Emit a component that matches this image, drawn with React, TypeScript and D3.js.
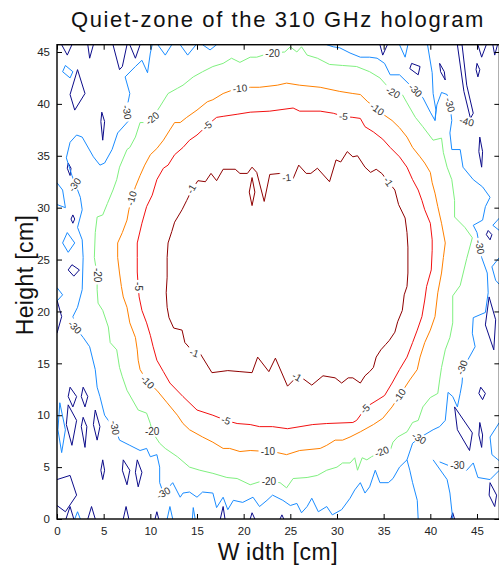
import React, { useEffect, useRef } from 'react';
import * as d3 from 'd3';

type Pt = [number, number];
type Lbl = [number, number, number];

const title = 'Quiet-zone of the 310 GHz hologram';
const xTicks = [0, 5, 10, 15, 20, 25, 30, 35, 40, 45];
const yTicks = [0, 5, 10, 15, 20, 25, 30, 35, 40, 45];

// contour lines, in cm
const level1: Pt[] = [
  [15.1, 32.6], [15.9, 32.5], [16.5, 33.3], [17.1, 32.6], [17.8, 33.7], [19.1, 33.7], [19.6, 33.3], [20.4, 33.3],
  [20.9, 33.9], [21.4, 33.4], [22.2, 30.6], [22.8, 33.2], [23.9, 33.3], [24.6, 32.9], [25.3, 32.8], [25.9, 34.1],
  [26.7, 33.3], [27.2, 33.3], [27.9, 33.8], [29.2, 32.5], [29.9, 34.6], [30.4, 34.4], [31.1, 35.4], [31.7, 34.9],
  [32.2, 35.0], [33.0, 33.9], [33.6, 33.4], [34.2, 33.7], [34.8, 33.3], [35.5, 32.5], [36.2, 31.7], [36.6, 30.3],
  [37.3, 29.0], [37.5, 27.6], [37.6, 26.2], [37.6, 23.7], [37.5, 22.4], [37.2, 21.6], [37.0, 20.1], [36.5, 19.0],
  [36.2, 18.0], [35.6, 17.2], [35.2, 16.8], [34.7, 16.3], [34.2, 15.6], [33.9, 14.6], [33.5, 14.2], [33.0, 13.8],
  [32.5, 13.1], [31.7, 13.6], [31.2, 13.6], [30.5, 13.1], [29.8, 13.6], [28.5, 13.8], [27.3, 12.9], [26.4, 13.5],
  [25.7, 13.7], [24.7, 12.8], [23.4, 15.5], [22.7, 14.2], [21.5, 15.6], [20.9, 14.1], [19.6, 14.2], [18.3, 14.3],
  [16.6, 14.1], [15.3, 16.0], [14.7, 16.0], [13.7, 17.0], [13.4, 18.2], [12.5, 18.4], [12.0, 19.4], [11.8, 20.4],
  [11.7, 21.8], [11.8, 23.3], [11.8, 25.2], [11.9, 26.6], [12.3, 27.7], [12.6, 28.6], [13.4, 29.8], [13.9, 30.7],
  [14.5, 31.8]
];
const level1Island: Pt[] = [[20.9, 32.9], [21.2, 31.5], [20.9, 30.2], [20.6, 31.5]];

const level5: Pt[] = [
  [16.1, 37.9], [16.7, 38.4], [17.1, 38.7], [17.8, 38.8], [19.3, 39.0], [20.7, 39.2], [22.8, 39.3], [25.3, 39.6],
  [26.0, 39.3], [28.2, 39.3], [29.6, 39.1], [30.7, 38.8], [31.7, 38.7], [32.5, 38.6], [33.0, 37.8], [33.9, 37.3],
  [34.9, 36.6], [35.7, 35.8], [36.7, 34.9], [37.5, 33.9], [38.1, 32.7], [38.7, 31.7], [39.1, 30.7], [39.4, 29.8],
  [40.0, 28.5], [40.2, 26.9], [40.2, 25.9], [40.1, 24.0], [39.6, 22.4], [39.4, 21.1], [39.1, 19.5], [38.6, 18.2],
  [38.1, 17.0], [37.5, 15.6], [36.7, 14.4], [35.9, 13.1], [35.1, 11.9], [34.4, 11.5], [33.5, 11.0], [33.0, 10.6],
  [32.1, 9.5], [31.7, 9.3], [28.9, 9.2], [27.4, 9.1], [24.7, 8.7], [23.1, 8.9], [21.7, 8.9], [20.7, 9.1],
  [19.3, 9.2], [18.1, 9.5], [16.7, 10.0], [15.0, 10.5], [13.5, 11.8], [12.1, 13.1], [11.4, 14.2], [10.7, 15.3],
  [10.3, 16.6], [10.0, 17.7], [9.6, 18.9], [9.1, 20.1], [8.8, 21.4], [8.7, 22.4], [8.6, 23.8], [8.6, 25.2],
  [8.6, 26.6], [9.1, 28.5], [9.6, 30.1], [10.2, 31.2], [10.7, 32.7], [11.4, 33.8], [11.9, 34.1], [12.6, 35.1],
  [13.5, 35.8], [14.2, 36.5], [15.0, 37.0], [15.6, 37.5]
];

const level10: Pt[] = [
  [19.6, 41.5], [20.7, 41.6], [21.7, 41.6], [23.6, 41.8], [24.6, 42.0], [26.0, 41.8], [28.2, 41.6], [30.3, 41.2],
  [31.7, 41.0], [32.5, 40.9], [33.3, 40.2], [34.3, 39.5], [35.1, 38.9], [35.9, 38.4], [36.7, 37.7], [37.5, 36.8],
  [38.1, 35.8], [38.9, 34.9], [39.4, 34.3], [40.0, 33.4], [40.2, 32.4], [40.5, 31.4], [40.8, 30.1], [41.2, 28.5],
  [41.6, 26.6], [41.4, 25.2], [41.2, 23.7], [40.8, 21.8], [40.5, 19.5], [40.0, 18.2], [39.4, 17.0], [38.9, 15.6],
  [38.6, 14.4], [37.8, 13.4], [36.7, 11.9], [35.9, 10.8], [34.9, 9.7], [33.9, 9.1], [32.5, 8.4], [31.4, 7.9],
  [30.6, 7.6], [29.8, 7.6], [28.9, 7.1], [28.2, 6.8], [26.0, 6.6], [24.6, 6.2], [23.1, 6.5], [22.6, 6.5],
  [20.7, 6.6], [19.6, 6.5], [18.5, 6.8], [17.8, 6.8], [16.7, 7.4], [15.6, 7.9], [14.2, 8.6], [13.5, 9.2],
  [12.9, 10.0], [11.8, 11.2], [10.7, 12.4], [9.7, 13.2], [8.9, 14.4], [8.7, 15.3], [8.6, 16.3], [8.4, 17.5],
  [7.8, 18.9], [7.5, 20.4], [7.1, 21.4], [6.9, 22.4], [6.7, 23.7], [6.5, 25.2], [6.5, 26.6], [7.0, 27.6],
  [7.5, 28.8], [7.7, 29.8], [8.0, 30.9], [8.4, 32.0], [8.9, 33.1], [9.4, 34.1], [10.0, 35.1], [10.7, 35.7],
  [11.4, 36.5], [12.1, 37.5], [12.6, 38.2], [13.2, 38.2], [13.9, 38.7], [15.0, 39.4], [16.1, 40.2], [16.7, 40.4],
  [17.8, 41.0], [18.7, 41.3]
];

const level20: Pt[] = [
  [23.1, 44.9], [24.4, 45.0], [25.0, 45.5], [25.7, 45.0], [26.2, 45.5], [26.8, 44.7], [27.9, 44.4], [29.2, 43.8],
  [30.6, 43.7], [32.1, 43.6], [33.5, 43.1], [34.6, 42.5], [35.1, 42.0], [36.0, 41.1], [37.0, 40.9], [37.5, 40.1],
  [38.4, 38.7], [39.2, 37.8], [40.3, 36.5], [41.2, 36.7], [41.4, 35.3], [41.8, 33.9], [42.3, 32.7], [42.6, 30.7],
  [42.6, 29.1], [43.7, 28.1], [44.5, 27.1], [43.9, 25.1], [43.2, 22.5], [42.4, 21.5], [42.4, 18.9], [42.1, 17.5],
  [41.6, 16.3], [41.2, 14.6], [41.0, 13.4], [40.8, 12.1], [40.0, 11.7], [39.2, 10.8], [38.7, 9.5], [38.1, 9.3],
  [37.5, 8.4], [36.5, 7.9], [36.0, 7.4], [35.7, 6.6], [34.8, 6.5], [33.7, 6.0], [33.2, 5.7], [32.7, 5.9],
  [32.2, 4.7], [31.9, 5.9], [31.4, 5.4], [30.6, 5.4], [30.0, 5.0], [28.9, 4.7], [27.9, 4.2], [26.8, 4.0],
  [25.3, 3.9], [24.6, 3.0], [23.9, 3.5], [22.8, 3.6], [22.1, 3.7], [20.7, 3.3], [19.3, 3.9], [18.2, 4.0],
  [16.7, 4.4], [15.3, 4.7], [14.2, 5.0], [12.9, 6.0], [11.6, 6.8], [11.0, 7.3], [10.2, 8.4], [10.0, 9.2],
  [9.6, 10.2], [8.7, 10.5], [7.5, 12.4], [7.0, 13.7], [6.7, 14.6], [6.4, 16.3], [5.7, 17.0], [5.5, 18.5],
  [4.9, 20.1], [4.4, 20.8], [4.3, 22.1], [4.3, 23.5], [4.0, 25.2], [4.1, 27.6], [4.3, 29.1], [4.9, 29.3],
  [5.4, 30.4], [6.0, 31.7], [6.4, 32.7], [6.7, 33.9], [7.5, 35.6], [7.8, 35.8], [8.4, 36.8], [8.9, 38.2],
  [9.4, 38.2], [10.2, 38.6], [11.0, 39.7], [11.9, 41.0], [12.9, 41.5], [13.5, 41.8], [14.6, 42.6], [15.6, 43.1],
  [16.7, 43.6], [17.8, 43.9], [18.7, 44.4], [19.6, 44.0], [20.7, 44.5], [21.4, 44.5], [22.1, 44.7]
];

// -30: the long noisy ring that starts and ends on the top edge, plus small pieces
const level30Ring: Pt[] = [
  [10.2, 45.7], [10.0, 44.9], [9.7, 43.0], [9.1, 44.2], [8.4, 43.6], [7.3, 42.6], [7.8, 41.0], [7.6, 40.1],
  [7.5, 39.2], [7.6, 38.3], [6.5, 37.2], [5.9, 35.6], [5.1, 34.3], [4.6, 34.1], [3.9, 34.9], [2.7, 36.8],
  [2.1, 37.0], [1.4, 36.3], [1.0, 34.8], [1.6, 33.1], [2.0, 32.2], [2.5, 31.0], [2.7, 29.8], [2.2, 28.1],
  [2.7, 26.9], [2.8, 25.2], [2.7, 22.1], [2.2, 20.4], [1.7, 19.5], [1.9, 18.5], [2.8, 17.5], [3.5, 16.6],
  [4.1, 14.4], [4.3, 12.7], [4.6, 11.8], [5.1, 10.0], [5.5, 9.5], [6.2, 8.8], [6.7, 7.6], [7.8, 7.1],
  [8.9, 6.6], [9.6, 6.8], [10.0, 6.0], [10.7, 6.2], [11.0, 5.0], [11.0, 3.5], [11.4, 2.5], [12.4, 3.5],
  [13.2, 2.1], [13.5, 2.5], [14.2, 2.6], [15.0, 2.1], [15.6, 2.6], [16.7, 2.5], [17.1, 1.1], [17.8, 2.1],
  [18.3, 0.9], [18.9, 1.8], [19.9, 1.6], [21.0, 2.1], [21.7, 1.2], [22.5, 1.8], [23.1, 2.3], [24.2, 1.8],
  [25.0, 1.3], [25.7, 1.5], [26.2, 0.6], [26.8, 1.2], [27.3, 2.0], [28.0, 0.7], [28.9, 1.2], [29.5, 0.4],
  [30.5, 0.9], [31.4, 2.0], [31.9, 2.8], [32.5, 3.5], [33.0, 2.5], [33.5, 3.1], [34.1, 4.7], [34.6, 3.5],
  [35.5, 3.5], [36.0, 3.9], [36.7, 5.0], [37.5, 5.7], [38.1, 7.3], [38.8, 7.8], [40.3, 8.6], [41.0, 8.9],
  [41.6, 9.5], [41.9, 12.2], [42.4, 11.8], [42.9, 10.8], [43.2, 12.1], [43.4, 13.1], [43.5, 14.4], [44.0, 15.3],
  [44.8, 16.6], [44.5, 17.9], [44.6, 19.4], [45.9, 19.9], [46.2, 21.8], [46.1, 23.7], [45.5, 25.2], [45.3, 26.2],
  [45.0, 27.6], [44.6, 28.3], [45.6, 28.8], [45.9, 30.1], [46.4, 31.0], [45.6, 32.0], [44.6, 32.7], [43.5, 33.9],
  [43.2, 35.6], [42.3, 35.6], [42.1, 37.2], [42.3, 38.4], [42.1, 39.9], [41.8, 40.9], [41.2, 41.1], [40.7, 39.9],
  [40.5, 38.4], [40.0, 39.2], [39.2, 40.6], [38.4, 41.3], [37.5, 42.1], [36.7, 42.8], [35.7, 42.8], [35.1, 43.9],
  [34.3, 44.4], [33.5, 44.5], [32.5, 44.5], [31.4, 44.9], [30.3, 45.4], [29.6, 45.5], [28.9, 45.7]
];
const level30Open: Pt[][] = [
  [[39.7, 45.7], [40.2, 43.0], [40.3, 41.0], [40.6, 39.4], [40.5, 38.4]],
  [[0, 32.4], [0.6, 31.7], [0.9, 30.0], [0, 30.3]],
  [[0, 22.3], [0.6, 21.6], [0, 21.0]],
  [[15.6, 45.7], [16.4, 45.2], [17.1, 45.7]],
  [[10.8, 45.7], [11.6, 44.7], [12.3, 45.7]],
  [[13.2, 45.7], [14.0, 44.7], [14.9, 45.7]],
  [[36.7, 45.7], [37.3, 44.5], [37.6, 45.7]],
  [[11.8, 0], [12.1, 1.2], [12.4, 0]],
  [[14.5, 0], [14.6, 1.1], [14.8, 0]],
  [[1.9, 0], [2.2, 0.7], [2.5, 0]],
  [[40.3, 5.7], [41.8, 3.8], [42.1, 2.5], [42.4, 0]],
  [[41.0, 5.5], [42.1, 5.1], [42.9, 5.2], [43.9, 4.7], [44.6, 5.4], [45.1, 4.0], [46.4, 3.8], [47.4, 4.7]],
  [[37.5, 5.7], [37.8, 4.7], [38.1, 3.5], [38.6, 1.8], [38.7, 0]],
  [[47.4, 29.0], [46.7, 28.3], [47.4, 27.8]],
  [[47.4, 25.2], [46.6, 24.3], [47.0, 23.0], [47.4, 22.6]],
  [[47.4, 9.3], [46.4, 7.9], [46.6, 6.2], [47.4, 5.6]]
];
const level30Closed: Pt[][] = [
  [[0.9, 43.7], [1.7, 43.1], [1.4, 42.5], [0.6, 43.1]],
  [[1.1, 27.6], [1.9, 26.6], [1.2, 25.7], [0.6, 26.6]],
  [[0.3, 11.2], [0.9, 8.6], [0.5, 6.4], [0.1, 8.6]]
];

// -40: small islands near the edges
const level40Open: Pt[][] = [
  [[0.5, 45.7], [1.1, 44.7], [1.6, 45.7]],
  [[3.3, 45.7], [3.5, 44.4], [3.9, 45.7]],
  [[6.0, 45.7], [6.7, 43.3], [7.0, 43.6], [7.5, 45.7]],
  [[7.8, 45.7], [8.4, 44.4], [8.9, 45.7]],
  [[34.6, 45.7], [34.9, 44.7], [35.4, 45.7]],
  [[45.1, 45.7], [45.5, 44.5], [46.0, 45.7]],
  [[46.7, 45.7], [46.9, 44.7], [47.2, 45.7]],
  [[0, 21.1], [0.5, 19.5], [0, 17.9]],
  [[0, 3.8], [1.4, 4.2], [2.1, 2.3], [0.9, 0.7], [0, 1.3]],
  [[0.96, 0], [1.4, 1.2], [1.8, 0]],
  [[3.3, 0], [3.7, 1.2], [4.1, 0]],
  [[7.1, 0], [7.4, 1.2], [7.7, 0]],
  [[10.5, 0], [10.7, 0.7], [10.9, 0]],
  [[17.5, 0], [17.8, 1.2], [18.0, 0]],
  [[20.7, 0], [20.9, 0.6], [21.2, 0]],
  [[23.9, 0], [24.1, 0.4], [24.3, 0]],
  [[42.2, 0], [42.4, 0.6], [42.6, 0]]
];
const level40Closed: Pt[][] = [
  [[2.2, 43.3], [3.0, 41.0], [1.9, 39.4], [1.4, 40.9]],
  [[4.8, 39.2], [5.1, 38.3], [4.9, 36.5], [4.7, 38.3]],
  [[1.2, 34.3], [1.5, 33.8], [1.4, 33.1], [1.1, 33.8]],
  [[1.7, 29.3], [1.9, 28.9], [1.7, 28.5], [1.5, 28.9]],
  [[1.6, 24.5], [2.4, 24.0], [1.8, 23.4], [1.2, 24.0]],
  [[1.2, 11.0], [2.1, 9.5], [1.6, 7.1], [1.0, 9.1]],
  [[1.4, 12.7], [2.1, 11.8], [1.7, 10.8], [1.2, 11.8]],
  [[2.8, 12.7], [3.3, 11.8], [3.0, 10.8], [2.6, 11.8]],
  [[2.8, 9.8], [3.2, 8.9], [3.0, 6.9], [2.6, 8.9]],
  [[4.1, 10.5], [4.6, 8.9], [4.3, 7.6], [3.9, 9.1]],
  [[4.9, 5.7], [5.1, 4.7], [4.9, 3.8], [4.7, 4.7]],
  [[7.1, 5.7], [7.8, 4.7], [7.5, 3.3], [7.0, 4.7]],
  [[8.6, 5.7], [9.1, 4.5], [8.7, 3.1], [8.4, 4.5]],
  [[38.0, 43.9], [38.9, 43.6], [38.7, 42.8], [37.8, 43.4]],
  [[41.0, 43.9], [41.5, 43.1], [41.6, 42.3], [41.1, 43.1]],
  [[43.4, 45.7], [43.9, 41.8], [44.6, 39.1], [44.3, 38.6], [43.6, 41.2], [42.9, 45.7]],
  [[45.0, 43.9], [45.3, 43.3], [45.1, 42.6], [44.9, 43.3]],
  [[45.3, 36.8], [45.6, 35.4], [45.5, 33.9], [45.2, 35.4]],
  [[46.2, 27.8], [46.6, 27.4], [46.4, 26.9], [46.0, 27.4]],
  [[46.3, 21.4], [47.0, 19.2], [46.8, 16.3], [45.9, 18.7]],
  [[45.4, 12.7], [45.9, 12.1], [45.6, 11.5], [45.2, 12.1]],
  [[42.6, 10.8], [44.5, 8.3], [44.2, 6.6], [42.9, 8.6]],
  [[45.3, 9.3], [45.6, 8.1], [45.5, 6.9], [45.2, 8.1]],
  [[46.4, 3.5], [47.1, 2.3], [46.9, 1.2], [46.3, 2.3]]
];

// inline labels: x, y (cm), angle
const labels1: Lbl[] = [[14.4, 31.8, -60], [24.6, 32.9, -5], [35.5, 32.5, 55], [14.7, 16.0, 20], [25.7, 13.7, 30]];
const labels5: Lbl[] = [[16.1, 37.9, -35], [30.7, 38.8, 5], [33.0, 10.6, -45], [18.1, 9.5, 20], [8.7, 22.4, 90]];
const labels10: Lbl[] = [[19.6, 41.5, -5], [34.3, 39.5, 35], [36.7, 11.9, -55], [22.6, 6.5, 0], [9.7, 13.2, 45], [8.0, 30.9, -75]];
const labels20: Lbl[] = [[23.1, 44.9, 0], [36.0, 41.1, 30], [34.8, 6.5, -20], [22.7, 3.6, 0], [10.2, 8.4, 0], [4.3, 23.5, 90], [10.2, 38.6, -40]];
const labels30: Lbl[] = [
  [7.5, 39.2, 80], [1.9, 32.2, -55], [1.9, 18.5, 45], [6.2, 8.8, 80], [11.4, 2.5, -30], [38.4, 41.3, 45],
  [42.1, 39.9, 75], [45.3, 26.2, 80], [43.4, 14.6, -70], [38.8, 7.8, 30], [42.9, 5.2, 0]
];
const labels40: Lbl[] = [[43.9, 38.3, 15]];

const colors: Record<string, string> = {
  '-1': '#8e0000',
  '-5': '#f21010',
  '-10': '#ff8000',
  '-20': '#7ff07f',
  '-30': '#1a8cff',
  '-40': '#0c0c8a'
};

const FONT = '"Liberation Sans", Arial, Helvetica, sans-serif';

function App() {
  const ref = useRef<HTMLDivElement>(null);

  useEffect(() => {
    const width = 499;
    const height = 569;

    d3.select(ref.current).select('svg').remove();

    const x = d3.scaleLinear().domain([0, 47.4]).range([57, 57 + 47.4 * 9.333]);
    const y = d3.scaleLinear().domain([0, 45.7]).range([519, 519 - 45.7 * 10.378]);

    const svg = d3.select(ref.current)
      .append('svg')
      .attr('width', width)
      .attr('height', height)
      .style('display', 'block')
      .style('font-family', FONT);

    svg.append('rect').attr('width', width).attr('height', height).attr('fill', '#fff');

    svg.append('defs').append('clipPath').attr('id', 'plotclip')
      .append('rect')
      .attr('x', x(0)).attr('y', y(45.7))
      .attr('width', x(47.4) - x(0)).attr('height', y(0) - y(45.7));

    const plot = svg.append('g').attr('clip-path', 'url(#plotclip)');

    const open = d3.line<Pt>().x(d => x(d[0])).y(d => y(d[1]));
    const closed = d3.line<Pt>().x(d => x(d[0])).y(d => y(d[1])).curve(d3.curveLinearClosed);

    const sets: { level: string; lines: Pt[][]; isClosed: boolean }[] = [
      { level: '-40', lines: level40Open, isClosed: false },
      { level: '-40', lines: level40Closed, isClosed: true },
      { level: '-30', lines: [level30Ring, ...level30Open], isClosed: false },
      { level: '-30', lines: level30Closed, isClosed: true },
      { level: '-20', lines: [level20], isClosed: true },
      { level: '-10', lines: [level10], isClosed: true },
      { level: '-5', lines: [level5], isClosed: true },
      { level: '-1', lines: [level1, level1Island], isClosed: true }
    ];

    sets.forEach(s => {
      plot.selectAll(null)
        .data(s.lines)
        .enter()
        .append('path')
        .attr('d', d => (s.isClosed ? closed(d) : open(d)) as string)
        .attr('fill', 'none')
        .attr('stroke', colors[s.level])
        .attr('stroke-width', 1)
        .attr('stroke-linejoin', 'round');
    });

    // inline contour labels, with a white box that cuts the line
    const labelSets: [string, Lbl[]][] = [
      ['-40', labels40], ['-30', labels30], ['-20', labels20], ['-10', labels10], ['-5', labels5], ['-1', labels1]
    ];
    labelSets.forEach(([lvl, list]) => {
      const g = plot.selectAll(null)
        .data(list)
        .enter()
        .append('g')
        .attr('transform', d => `translate(${x(d[0])},${y(d[1])}) rotate(${d[2]})`);
      const w = lvl.length * 5.6 + 2;
      g.append('rect')
        .attr('x', -w / 2).attr('y', -5)
        .attr('width', w).attr('height', 10)
        .attr('fill', '#fff');
      g.append('text')
        .attr('text-anchor', 'middle')
        .attr('dy', '0.35em')
        .attr('font-size', 10)
        .attr('fill', '#333')
        .text(lvl);
    });

    // frame
    svg.append('rect')
      .attr('x', x(0)).attr('y', y(45.7))
      .attr('width', x(47.4) - x(0)).attr('height', y(0) - y(45.7))
      .attr('fill', 'none')
      .attr('stroke', '#000')
      .attr('stroke-width', 1.4);

    const styleAxis = (g: d3.Selection<SVGGElement, unknown, null, undefined>) => {
      g.attr('font-family', FONT).attr('font-size', 11.5);
      g.select('.domain').remove();
      g.selectAll('.tick line').attr('stroke', '#000');
      g.selectAll('.tick text').attr('fill', '#222');
    };

    svg.append('g')
      .attr('transform', `translate(0,${y(0)})`)
      .call(d3.axisBottom(x).tickValues(xTicks).tickSize(-5).tickSizeOuter(0).tickPadding(8))
      .call(styleAxis);
    svg.append('g')
      .attr('transform', `translate(${x(0)},0)`)
      .call(d3.axisLeft(y).tickValues(yTicks).tickSize(-5).tickSizeOuter(0).tickPadding(7))
      .call(styleAxis);
    svg.append('g')
      .attr('transform', `translate(0,${y(45.7)})`)
      .call(d3.axisTop(x).tickValues(xTicks).tickSize(-5).tickSizeOuter(0).tickFormat(() => ''))
      .call(styleAxis);
    svg.append('g')
      .attr('transform', `translate(${x(47.4)},0)`)
      .call(d3.axisRight(y).tickValues(yTicks).tickSize(-5).tickSizeOuter(0).tickFormat(() => ''))
      .call(styleAxis);

    svg.append('text')
      .attr('x', 278).attr('y', 27)
      .attr('text-anchor', 'middle')
      .attr('font-size', 22)
      .attr('letter-spacing', 1.6)
      .attr('fill', '#111')
      .text(title);

    const xl = svg.append('text')
      .attr('x', 278).attr('y', 560)
      .attr('text-anchor', 'middle')
      .attr('font-size', 23)
      .attr('letter-spacing', 0.6)
      .attr('fill', '#111');
    xl.append('tspan').text('W');
    xl.append('tspan').attr('dx', 6).text('idth [cm]');

    svg.append('text')
      .attr('transform', 'translate(33,275) rotate(-90)')
      .attr('text-anchor', 'middle')
      .attr('font-size', 23)
      .attr('letter-spacing', 0.4)
      .attr('fill', '#111')
      .text('Height [cm]');
  }, []);

  return <div ref={ref} style={{ position: 'absolute', left: 0, top: 0 }}></div>;
}

export default App;
